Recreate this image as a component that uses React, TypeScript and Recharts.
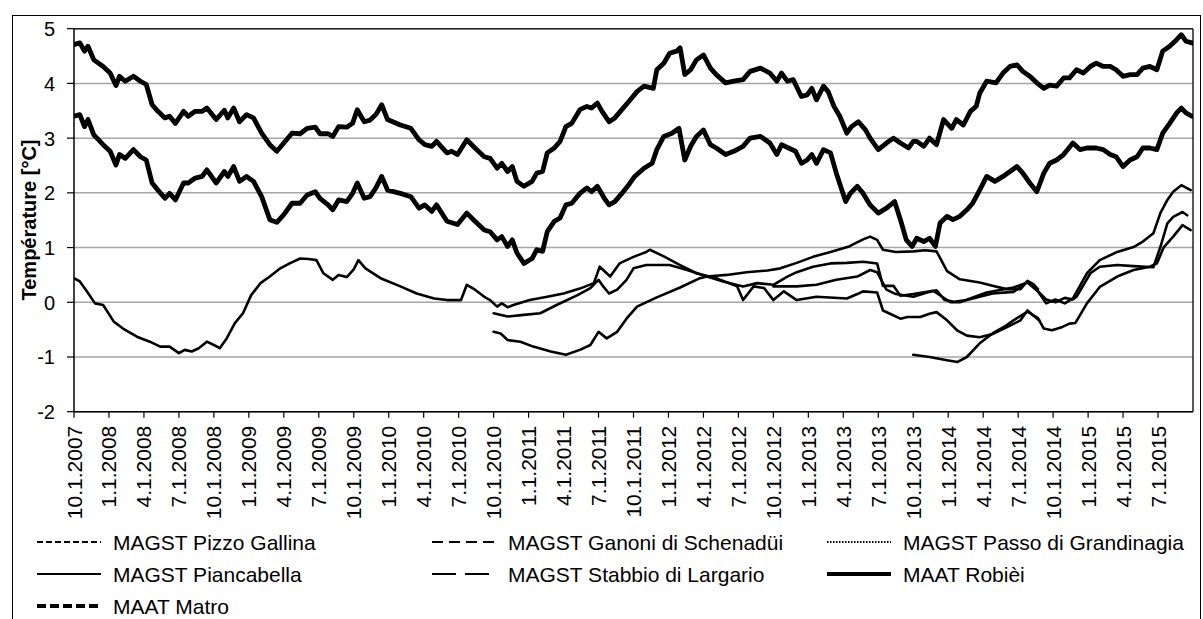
import { CartesianGrid, Line, LineChart, ReferenceLine, XAxis, YAxis } from 'recharts';

const FONT = "'Liberation Sans', Arial, sans-serif";
const GRID = '#a6a6a6';
const INK = '#000';

// x = months since 1 Oct 2007, y = °C
const TICK_LABELS = [
  '10.1.2007', '1.1.2008', '4.1.2008', '7.1.2008', '10.1.2008', '1.1.2009', '4.1.2009', '7.1.2009',
  '10.1.2009', '1.1.2010', '4.1.2010', '7.1.2010', '10.1.2010', '1.1.2011', '4.1.2011', '7.1.2011',
  '10.1.2011', '1.1.2012', '4.1.2012', '7.1.2012', '10.1.2012', '1.1.2013', '4.1.2013', '7.1.2013',
  '10.1.2013', '1.1.2014', '4.1.2014', '7.1.2014', '10.1.2014', '1.1.2015', '4.1.2015', '7.1.2015',
];
const TICK_MONTHS = TICK_LABELS.map((_, i) => i * 3);
const Y_TICKS = [-2, -1, 0, 1, 2, 3, 4, 5];

const ROBIEI = [
  [0, 4.71], [0.5, 4.74], [0.9, 4.59], [1.2, 4.68], [1.7, 4.43], [2.5, 4.31], [3.1, 4.19], [3.6, 3.96], [3.9, 4.13], [4.4, 4.04],
  [5.1, 4.13], [5.7, 4.04], [6.2, 3.98], [6.7, 3.61], [7.2, 3.49], [7.8, 3.37], [8.2, 3.4], [8.7, 3.27], [9.4, 3.49], [9.8, 3.4],
  [10.4, 3.49], [11, 3.49], [11.4, 3.55], [12.2, 3.34], [12.9, 3.51], [13.2, 3.37], [13.7, 3.55], [14.2, 3.3], [14.8, 3.43], [15.4, 3.37],
  [16.1, 3.09], [16.8, 2.88], [17.4, 2.76], [18, 2.91], [18.7, 3.09], [19.4, 3.08], [20, 3.18], [20.7, 3.2], [21.1, 3.08], [21.8, 3.08],
  [22.2, 3.03], [22.7, 3.21], [23.4, 3.2], [23.9, 3.27], [24.3, 3.52], [24.9, 3.3], [25.4, 3.33], [25.9, 3.43], [26.4, 3.61], [26.9, 3.34],
  [28, 3.24], [28.9, 3.18], [29.6, 2.97], [30.1, 2.88], [30.7, 2.85], [31.1, 2.94], [32, 2.73], [32.4, 2.76], [32.9, 2.7], [33.7, 2.97],
  [34.4, 2.82], [35.2, 2.66], [35.7, 2.63], [36.3, 2.45], [36.7, 2.54], [37.2, 2.39], [37.6, 2.48], [38, 2.21], [38.6, 2.12], [39.3, 2.21],
  [39.7, 2.36], [40.2, 2.39], [40.6, 2.73], [41.2, 2.82], [41.7, 2.94], [42.2, 3.21], [42.7, 3.27], [43.4, 3.52], [44, 3.58], [44.4, 3.55],
  [44.9, 3.64], [45.3, 3.49], [45.9, 3.3], [46.4, 3.37], [47, 3.52], [47.6, 3.67], [48.3, 3.85], [48.9, 3.95], [49.7, 3.91], [50, 4.25],
  [50.6, 4.37], [51.1, 4.55], [51.7, 4.59], [52, 4.65], [52.4, 4.16], [52.9, 4.25], [53.4, 4.43], [54, 4.52], [54.6, 4.28], [55.1, 4.16],
  [55.9, 4.01], [56.6, 4.04], [57.4, 4.07], [58, 4.22], [58.9, 4.28], [59.7, 4.19], [60.3, 4.04], [60.7, 4.19], [61.2, 4.04], [61.7, 4.07],
  [62.4, 3.76], [62.9, 3.79], [63.3, 3.91], [63.7, 3.7], [64.3, 3.95], [64.7, 3.85], [65.2, 3.58], [65.7, 3.4], [66.3, 3.09], [66.7, 3.21],
  [67.3, 3.3], [67.9, 3.15], [68.3, 3.0], [69, 2.79], [69.7, 2.91], [70.3, 3.0], [70.9, 2.91], [71.6, 2.82], [72, 2.94], [72.3, 2.94],
  [72.9, 2.85], [73.4, 3.0], [74, 2.88], [74.6, 3.34], [75.3, 3.18], [75.7, 3.34], [76.3, 3.24], [76.9, 3.49], [77.4, 3.58], [77.7, 3.82],
  [78.3, 4.04], [79.1, 4.01], [79.7, 4.19], [80.3, 4.31], [80.9, 4.34], [81.4, 4.22], [82, 4.13], [82.6, 4.01], [83.2, 3.91], [83.7, 3.97],
  [84.3, 3.95], [84.9, 4.1], [85.4, 4.1], [86, 4.25], [86.6, 4.19], [87.2, 4.31], [87.7, 4.37], [88.3, 4.31], [88.9, 4.31], [89.4, 4.25],
  [90, 4.13], [90.6, 4.16], [91.2, 4.16], [91.7, 4.28], [92.3, 4.31], [92.9, 4.25], [93.4, 4.59], [94, 4.68], [94.6, 4.8], [95, 4.89],
  [95.4, 4.77], [95.9, 4.74],
];

const MATRO = [
  [0, 3.4], [0.5, 3.43], [0.9, 3.21], [1.2, 3.34], [1.7, 3.06], [2.5, 2.88], [3.1, 2.76], [3.6, 2.51], [3.9, 2.7], [4.4, 2.63],
  [5.1, 2.79], [5.7, 2.66], [6.2, 2.6], [6.7, 2.18], [7.2, 2.05], [7.8, 1.9], [8.2, 1.99], [8.7, 1.87], [9.4, 2.18], [9.8, 2.18],
  [10.4, 2.27], [11, 2.3], [11.4, 2.42], [12.2, 2.18], [12.9, 2.39], [13.2, 2.3], [13.7, 2.48], [14.2, 2.21], [14.8, 2.3], [15.4, 2.21],
  [16.1, 1.93], [16.8, 1.51], [17.4, 1.46], [18, 1.6], [18.7, 1.81], [19.4, 1.81], [20, 1.96], [20.7, 2.02], [21.1, 1.9], [21.8, 1.78],
  [22.2, 1.69], [22.7, 1.87], [23.4, 1.84], [23.9, 1.99], [24.3, 2.18], [24.9, 1.9], [25.4, 1.93], [25.9, 2.09], [26.4, 2.3], [26.9, 2.05],
  [28, 1.99], [28.9, 1.93], [29.6, 1.72], [30.1, 1.78], [30.7, 1.66], [31.1, 1.78], [32, 1.48], [32.9, 1.42], [33.7, 1.63], [34.4, 1.48],
  [35.2, 1.32], [35.7, 1.29], [36.3, 1.14], [36.7, 1.2], [37.2, 1.02], [37.6, 1.14], [38, 0.9], [38.6, 0.71], [39.3, 0.8], [39.7, 0.96],
  [40.2, 0.93], [40.6, 1.29], [41.2, 1.48], [41.7, 1.54], [42.2, 1.78], [42.7, 1.81], [43.4, 1.99], [44, 2.09], [44.4, 2.02], [44.9, 2.12],
  [45.5, 1.9], [45.9, 1.78], [46.4, 1.84], [47, 1.99], [47.6, 2.15], [48.1, 2.3], [48.9, 2.45], [49.6, 2.54], [50, 2.79], [50.6, 3.03],
  [51.3, 3.09], [51.9, 3.18], [52.4, 2.6], [52.9, 2.85], [53.4, 3.03], [54, 3.15], [54.6, 2.88], [55.1, 2.82], [55.9, 2.7], [56.6, 2.76],
  [57.4, 2.85], [58, 3.0], [58.9, 3.03], [59.7, 2.91], [60.3, 2.7], [60.7, 2.88], [61.3, 2.82], [61.9, 2.76], [62.4, 2.54], [62.9, 2.6],
  [63.3, 2.7], [63.7, 2.54], [64.3, 2.79], [64.9, 2.73], [65.4, 2.36], [66.2, 1.84], [66.6, 1.99], [67.2, 2.12], [67.7, 1.99], [68.3, 1.78],
  [69, 1.63], [69.7, 1.72], [70.4, 1.84], [70.9, 1.51], [71.4, 1.14], [71.9, 1.02], [72.3, 1.17], [72.9, 1.11], [73.4, 1.17], [73.9, 1.02],
  [74.3, 1.45], [74.9, 1.57], [75.4, 1.51], [76, 1.57], [76.6, 1.69], [77.1, 1.81], [77.7, 2.05], [78.3, 2.3], [79, 2.21], [79.7, 2.3],
  [80.3, 2.39], [80.9, 2.48], [81.4, 2.36], [82, 2.18], [82.6, 2.02], [83.2, 2.36], [83.7, 2.54], [84.3, 2.6], [84.9, 2.7], [85.7, 2.91],
  [86.3, 2.79], [86.9, 2.82], [87.7, 2.82], [88.3, 2.79], [88.9, 2.7], [89.4, 2.66], [90, 2.48], [90.6, 2.6], [91.2, 2.66], [91.7, 2.82],
  [92.3, 2.82], [92.9, 2.79], [93.4, 3.09], [94, 3.27], [94.6, 3.46], [95, 3.55], [95.4, 3.46], [95.9, 3.4],
];

const PIANCABELLA = [
  [0, 0.44], [0.5, 0.38], [1.1, 0.2], [1.8, -0.02], [2.5, -0.05], [3.4, -0.35], [4.2, -0.48], [5.4, -0.63], [6.5, -0.72], [7.4, -0.81],
  [8.2, -0.81], [9, -0.93], [9.5, -0.87], [10.1, -0.9], [10.7, -0.84], [11.4, -0.72], [12, -0.78], [12.5, -0.84], [13.1, -0.66], [13.8, -0.38],
  [14.5, -0.2], [15.2, 0.13], [16, 0.35], [16.8, 0.47], [17.7, 0.62], [18.5, 0.71], [19.4, 0.8], [20.1, 0.79], [20.8, 0.77], [21.4, 0.53],
  [22.2, 0.41], [22.7, 0.5], [23.4, 0.46], [24, 0.6], [24.4, 0.77], [25, 0.62], [26.3, 0.44], [28, 0.29], [29.4, 0.16], [30.9, 0.07],
  [32, 0.04], [33.2, 0.04], [33.7, 0.32], [34.4, 0.23], [35.2, 0.1], [35.7, 0.04], [36.3, -0.08], [36.7, -0.02], [37.2, -0.09], [37.7, -0.05],
  [39.1, 0.04], [40.6, 0.1], [42, 0.16], [43.4, 0.25], [44.6, 0.35], [45.1, 0.65], [46, 0.47], [46.8, 0.71], [48, 0.83], [49.1, 0.92],
  [49.4, 0.96], [50.6, 0.84], [52, 0.68], [53.4, 0.53], [55.1, 0.44], [56.9, 0.29], [57.4, 0.04], [58.3, 0.29], [59.2, 0.26], [60, 0.04],
  [60.9, 0.2], [62, 0.04], [63.7, 0.1], [66.3, 0.07], [67.2, 0.15], [67.7, 0.2], [68.9, 0.18], [69.4, -0.15], [70, -0.21], [70.9, -0.3],
  [71.5, -0.27], [72.6, -0.27], [73.4, -0.21], [74, -0.18], [74.9, -0.33], [75.8, -0.52], [76.6, -0.61], [77.7, -0.64], [78.8, -0.58], [80, -0.46],
  [81.2, -0.33], [81.8, -0.15], [82.3, -0.24], [82.8, -0.33],
];

const PIZZO_GALLINA = [
  [36, -0.2], [37.2, -0.26], [38.6, -0.23], [40, -0.2], [41.4, -0.05], [43.2, 0.13], [44.3, 0.26], [45, 0.41], [45.4, 0.29], [45.9, 0.16],
  [46.6, 0.23], [47.4, 0.41], [48, 0.62], [49.1, 0.68], [51.1, 0.68], [52.6, 0.59], [54.3, 0.47], [55.7, 0.38], [57.4, 0.29], [58.6, 0.35],
  [60, 0.32], [61.2, 0.47], [62, 0.55], [63.4, 0.65], [64.9, 0.71], [66.3, 0.72], [67.7, 0.74], [68.9, 0.71], [69.4, 0.3], [70.3, 0.3],
  [70.9, 0.12], [72, 0.15], [73.7, 0.21], [75.2, 0], [76, 0], [78.3, 0.18], [80.6, 0.27], [81.8, 0.36], [82.7, 0.2], [83.4, -0.02],
  [84.2, 0.05], [85, -0.02], [85.7, 0.07], [86.9, 0.53], [88, 0.77], [89.5, 0.92], [90.9, 1.01], [91.7, 1.11], [92.6, 1.26], [93.2, 1.63],
  [93.8, 1.87], [94.3, 2.02], [95, 2.14], [95.8, 2.05],
];

const GANONI = [
  [36, -0.54], [36.6, -0.57], [37.2, -0.69], [38.3, -0.72], [39.4, -0.81], [40.9, -0.9], [42.2, -0.96], [43.4, -0.87], [44.3, -0.78], [45, -0.54],
  [45.7, -0.66], [46.6, -0.54], [47.4, -0.3], [48.3, -0.08], [50, 0.09], [52, 0.27], [53.7, 0.44], [54.3, 0.47], [56, 0.5], [57.7, 0.55],
  [59.5, 0.58], [60.6, 0.62], [62, 0.72], [63.4, 0.83], [64.9, 0.92], [66.5, 1.02], [67.7, 1.15], [68.3, 1.2], [68.9, 1.14], [69.4, 0.96],
  [70.5, 0.92], [72, 0.93], [73, 0.95], [74, 0.93], [74.9, 0.57], [76, 0.42], [77.7, 0.36], [78.8, 0.3], [80, 0.24], [81.2, 0.24],
  [81.8, 0.39], [82.3, 0.33], [82.7, 0.24],
];

const PASSO = [
  [60, 0.29], [62, 0.29], [63.7, 0.32], [65.4, 0.41], [67.2, 0.47], [68.3, 0.59], [68.9, 0.55], [69.7, 0.23], [70.5, 0.15], [72, 0.1],
  [73.4, 0.19], [74, 0.22], [74.7, 0.04], [75.5, 0.01], [76.6, 0.04], [77.7, 0.1], [78.8, 0.16], [80.6, 0.19], [81.8, 0.37], [82.6, 0.22],
  [83.4, 0.05], [84.2, 0], [85, 0.08], [85.7, 0.05], [86, 0.1], [87.2, 0.53], [88, 0.65], [89.5, 0.68], [90.9, 0.66], [92.6, 0.64],
  [93.2, 1.01], [93.8, 1.44], [94.3, 1.56], [95.1, 1.65], [95.5, 1.59],
];

const STABBIO = [
  [72, -0.96], [73.4, -1.0], [74.9, -1.06], [75.8, -1.09], [76.6, -1.0], [77.7, -0.75], [78.8, -0.57], [80, -0.42], [80.6, -0.33], [81.8, -0.17],
  [82.7, -0.29], [83.2, -0.48], [83.9, -0.51], [84.8, -0.45], [85.4, -0.39], [85.9, -0.38], [86.9, -0.02], [88, 0.28], [89.5, 0.47], [90.9, 0.59],
  [92.3, 0.65], [92.9, 0.71], [93.5, 1.01], [94.3, 1.2], [95.1, 1.41], [95.8, 1.32],
];

const toRows = (pairs: number[][]) => pairs.map(([m, v]) => ({ m, v }));

const SERIES = [
  { name: 'MAGST Pizzo Gallina', data: PIZZO_GALLINA, thick: false, dash: '6 3' },
  { name: 'MAGST Ganoni di Schenadüi', data: GANONI, thick: false, dash: '11 6' },
  { name: 'MAGST Passo di Grandinagia', data: PASSO, thick: false, dash: '1.5 1.5' },
  { name: 'MAGST Piancabella', data: PIANCABELLA, thick: false, dash: undefined },
  { name: 'MAGST Stabbio di Largario', data: STABBIO, thick: false, dash: '24 9' },
  { name: 'MAAT Robièi', data: ROBIEI, thick: true, dash: undefined },
  { name: 'MAAT Matro', data: MATRO, thick: true, dash: '9 4' },
];

function XTick({ x, y, payload }: any) {
  const label = TICK_LABELS[Math.round(payload.value / 3)] ?? '';
  return (
    <text
      transform={`translate(${x + 7.5},${y + 6}) rotate(-90)`}
      textAnchor="end"
      fontSize={21}
      fontFamily={FONT}
      fill={INK}
    >
      {label}
    </text>
  );
}

function YTick({ y, payload }: any) {
  return (
    <text x={55} y={y + 7.5} textAnchor="end" fontSize={20} fontFamily={FONT} fill={INK}>
      {payload.value}
    </text>
  );
}

const LEGEND_COLS = [37, 432, 827];
const LEGEND_ROWS = [542, 574, 606];

export default function App() {
  return (
    <div style={{ position: 'absolute', left: 0, top: 0, width: 1203, height: 619, overflow: 'hidden', background: '#fff' }}>
      <div
        style={{
          position: 'absolute',
          left: 12,
          top: 15,
          width: 1189,
          height: 700,
          border: '1.5px solid #000',
          boxSizing: 'border-box',
        }}
      />
      <div style={{ position: 'absolute', left: 0, top: 0 }}>
        <LineChart width={1203} height={619} margin={{ top: 28.7, right: 10, bottom: 0, left: 14 }}>
          <CartesianGrid vertical={false} stroke={GRID} strokeWidth={1.5} />
          <XAxis
            type="number"
            dataKey="m"
            domain={[0, 96]}
            ticks={TICK_MONTHS}
            interval={0}
            height={207.3}
            tickSize={6}
            tick={<XTick />}
            axisLine={{ stroke: INK, strokeWidth: 1.5 }}
            tickLine={{ stroke: INK, strokeWidth: 1.2 }}
            allowDataOverflow
          />
          <YAxis
            type="number"
            domain={[-2, 5]}
            ticks={Y_TICKS}
            interval={0}
            width={60}
            tickSize={7}
            tick={<YTick />}
            axisLine={{ stroke: INK, strokeWidth: 1.5 }}
            tickLine={{ stroke: INK, strokeWidth: 1.2 }}
          />
          <ReferenceLine y={5} stroke="#222" strokeWidth={1.5} />
          <ReferenceLine x={96} stroke="#222" strokeWidth={1.5} />
          {SERIES.map((s) => (
            <Line
              key={s.name}
              data={toRows(s.data)}
              dataKey="v"
              name={s.name}
              type="linear"
              stroke={INK}
              strokeWidth={s.thick ? 4.8 : 2.6}
              strokeLinejoin="round"
              strokeLinecap="round"
              dot={false}
              activeDot={false}
              isAnimationActive={false}
            />
          ))}
        </LineChart>
      </div>
      <svg width={1203} height={619} style={{ position: 'absolute', left: 0, top: 0, pointerEvents: 'none' }}>
        <text
          transform="translate(36,220) rotate(-90)"
          textAnchor="middle"
          fontSize={20}
          fontWeight="bold"
          fontFamily={FONT}
          fill={INK}
        >
          Température [°C]
        </text>
        {SERIES.map((s, i) => {
          const x = LEGEND_COLS[i % 3];
          const y = LEGEND_ROWS[Math.floor(i / 3)];
          return (
            <g key={s.name}>
              <line
                x1={x}
                x2={x + 64}
                y1={y}
                y2={y}
                stroke={INK}
                strokeWidth={s.thick ? 4 : 2}
                strokeDasharray={s.dash}
              />
              <text x={x + 76} y={y + 7.5} fontSize={21} fontFamily={FONT} fill={INK}>
                {s.name}
              </text>
            </g>
          );
        })}
      </svg>
    </div>
  );
}
